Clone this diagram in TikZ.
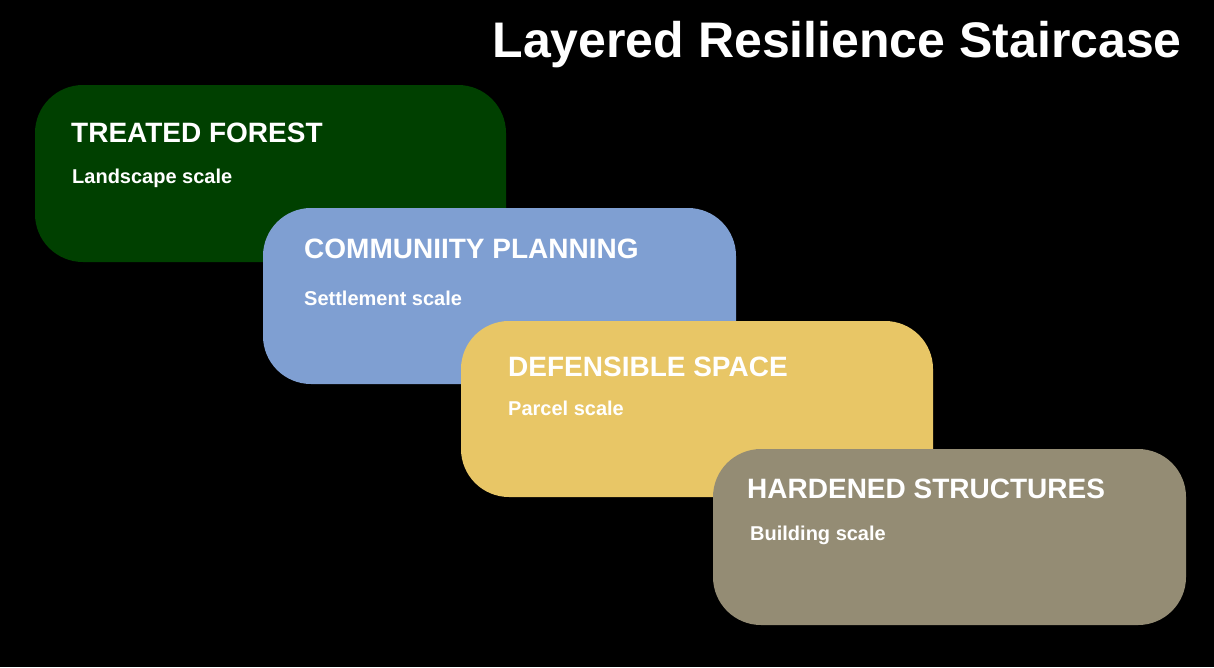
\documentclass[tikz,border=0pt]{standalone}
\usepackage{fontspec}
\setmainfont{Liberation Sans}
\begin{document}
\begin{tikzpicture}[x=1pt,y=-1pt,
  box/.style={rounded corners=48pt},
  ttl/.style={anchor=west,text=white,font=\bfseries\fontsize{28}{30}\selectfont,inner sep=0},
  sub/.style={anchor=west,text=white,font=\bfseries\fontsize{20}{22}\selectfont,inner sep=0}]
\fill[black] (0,0) rectangle (1214,667);
\useasboundingbox (0,0) rectangle (1214,667);
\definecolor{cg}{HTML}{004000}\definecolor{cb}{HTML}{7F9FD2}
\definecolor{cy}{HTML}{E8C666}\definecolor{ct}{HTML}{948C74}
\node[anchor=east,text=white,font=\bfseries\fontsize{50}{52}\selectfont,inner sep=0] (title) at (1182,45) {Layered Resilience Staircase};
\fill[cg,box] (35,85) rectangle (506,262);
\node[ttl] (t1) at (71,133) {TREATED FOREST};
\node[sub] (s1) at (72,178) {Landscape scale};
\fill[cb,box] (263,208) rectangle (736,384);
\node[ttl] (t2) at (304,249) {COMMUNIITY PLANNING};
\node[sub] (s2) at (304,298) {Settlement scale};
\fill[cy,box] (461,321) rectangle (933,497);
\node[ttl] (t3) at (508,367) {DEFENSIBLE SPACE};
\node[sub] (s3) at (508,408) {Parcel scale};
\fill[ct,box] (713,449) rectangle (1186,625);
\node[ttl] (t4) at (747,489) {HARDENED STRUCTURES};
\node[sub] (s4) at (750,535) {Building scale};
\end{tikzpicture}
\end{document}
